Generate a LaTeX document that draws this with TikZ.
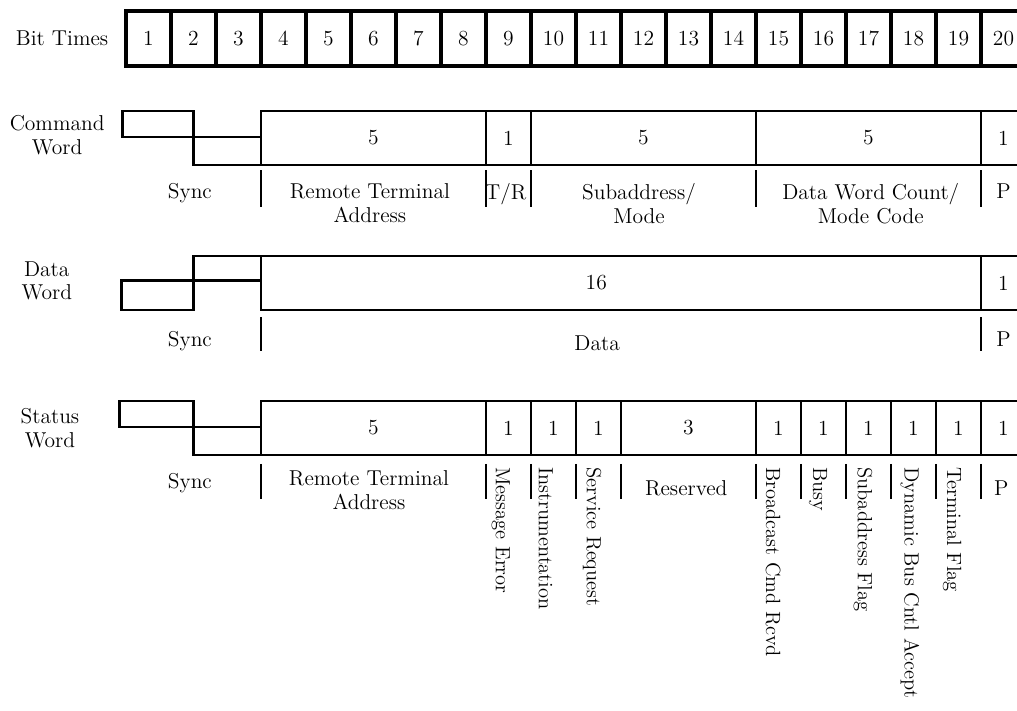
\documentclass[tikz,border=0pt]{standalone}
\usepackage{tikz}
\usetikzlibrary{positioning}

\begin{document}
\begin{tikzpicture}[
    font=\fontsize{13.6}{15}\selectfont,
    bitbox/.style={
        rectangle, minimum width=1cm, minimum height=1.22cm,
        draw=black, line width=2.2pt, inner sep=0pt, outer sep=0pt
    },
    field/.style={
        rectangle, minimum height=1.2cm,
        draw=black, line width=1.8pt, inner sep=0pt, outer sep=0pt
    },
    wave/.style={line width=1.8pt, line join=miter},
    tick/.style={line width=1.6pt},
    lbl/.style={align=center, inner sep=0pt},
    vlbl/.style={rotate=-90, anchor=west, inner sep=0pt,
                 font=\fontsize{13}{15}\selectfont},
    node distance=0cm
]

\path[use as bounding box] (-2.8,0) rectangle (19.8,-15.8);
\clip (-2.8,0) rectangle (19.8,-15.8);

% ===================================================================
% BIT TIMES (top)
% ===================================================================
\node[lbl] (bittimes) at (-1.42,-0.84) {Bit Times};
\foreach \i in {1,...,20}
    \node[bitbox] (bit\i) at (\i-0.5,-0.856) {\i};

% ===================================================================
% COMMAND WORD
% ===================================================================
\node[lbl] (cmdname) at (-1.53,-3.0) {Command\\Word};

% Sync pattern
\draw[wave] (3,-3.044) -- (-0.07,-3.044) -- (-0.07,-2.467)
    -- (1.5,-2.467) -- (1.5,-3.667) -- (3,-3.667);

\node[field, minimum width=5cm, anchor=south west] (cmdrt) at (3,-3.667) {5};
\node[field, minimum width=1cm, right=of cmdrt] (cmdtr) {1};
\node[field, minimum width=5cm, right=of cmdtr] (cmdsub) {5};
\node[field, minimum width=5cm, right=of cmdsub] (cmdcount) {5};
\node[field, minimum width=1cm, right=of cmdcount] (cmdpar) {1};

% Field boundaries
\foreach \x in {3,8,9,14,19}
    \draw[tick] (\x,-3.78) -- (\x,-4.6);

\node[lbl, anchor=north] (cmdsync) at (1.42,-4.07) {Sync};
\node[lbl, anchor=north] (cmdrtlbl) at (5.42,-4.07) {Remote Terminal\\Address};
\node[lbl, anchor=north] (cmdtrlbl) at (8.44,-4.07) {T/R};
\node[lbl, anchor=north] (cmdsublbl) at (11.4,-4.07) {Subaddress/\\Mode};
\node[lbl, anchor=north] (cmdcountlbl) at (16.55,-4.07) {Data Word Count/\\Mode Code};
\node[lbl, anchor=north] (cmdparlbl) at (19.5,-4.07) {P};

% ===================================================================
% DATA WORD
% ===================================================================
\node[lbl] (dataname) at (-1.76,-6.24) {Data\\Word};

% Sync pattern
\draw[wave] (3,-6.24) -- (-0.1,-6.24) -- (-0.1,-6.89)
    -- (1.5,-6.89) -- (1.5,-5.69) -- (3,-5.69);

\node[field, minimum width=16cm, anchor=south west,
      label={[xshift=-0.55cm]center:16}] (datafld) at (3,-6.89) {};
\node[field, minimum width=1cm, right=of datafld] (datapar) {1};

\foreach \x in {3,19}
    \draw[tick] (\x,-7.05) -- (\x,-7.8);

\node[lbl, anchor=north] (datasync) at (1.42,-7.36) {Sync};
\node[lbl, anchor=north] (datalbl) at (10.47,-7.45) {Data};
\node[lbl, anchor=north] (dataparlbl) at (19.5,-7.36) {P};

% ===================================================================
% STATUS WORD
% ===================================================================
\node[lbl] (statname) at (-1.69,-9.51) {Status\\Word};

% Sync pattern
\draw[wave] (3,-9.49) -- (-0.15,-9.49) -- (-0.15,-8.91)
    -- (1.5,-8.91) -- (1.5,-10.11) -- (3,-10.11);

\node[field, minimum width=5cm, anchor=south west] (statrt) at (3,-10.11) {5};
\node[field, minimum width=1cm, right=of statrt] (statme) {1};
\node[field, minimum width=1cm, right=of statme] (statins) {1};
\node[field, minimum width=1cm, right=of statins] (statsr) {1};
\node[field, minimum width=3cm, right=of statsr] (statres) {3};
\node[field, minimum width=1cm, right=of statres] (statbcr) {1};
\node[field, minimum width=1cm, right=of statbcr] (statbusy) {1};
\node[field, minimum width=1cm, right=of statbusy] (statsf) {1};
\node[field, minimum width=1cm, right=of statsf] (statdbc) {1};
\node[field, minimum width=1cm, right=of statdbc] (stattf) {1};
\node[field, minimum width=1cm, right=of stattf] (statpar) {1};

\foreach \x in {3,8,9,10,11,14,15,16,17,18,19}
    \draw[tick] (\x,-10.31) -- (\x,-11.08);

\node[lbl, anchor=north] (statsync) at (1.42,-10.51) {Sync};
\node[lbl, anchor=north] (statrtlbl) at (5.4,-10.45) {Remote Terminal\\Address};
\node[lbl, anchor=north] (statreslbl) at (12.45,-10.67) {Reserved};
\node[lbl, anchor=north] (statparlbl) at (19.45,-10.67) {P};

% Single bit flags
\node[vlbl] (statmelbl) at (8.33,-10.38) {Message Error};
\node[vlbl] (statinslbl) at (9.33,-10.38) {Instrumentation};
\node[vlbl] (statsrlbl) at (10.36,-10.38) {Service Request};
\node[vlbl] (statbcrlbl) at (14.38,-10.38) {Broadcast Cmd Rcvd};
\node[vlbl] (statbusylbl) at (15.38,-10.38) {Busy};
\node[vlbl] (statsflbl) at (16.38,-10.38) {Subaddress Flag};
\node[vlbl] (statdbclbl) at (17.42,-10.38) {Dynamic Bus Cntl Accept};
\node[vlbl] (stattflbl) at (18.36,-10.38) {Terminal Flag};

\end{tikzpicture}
\end{document}
